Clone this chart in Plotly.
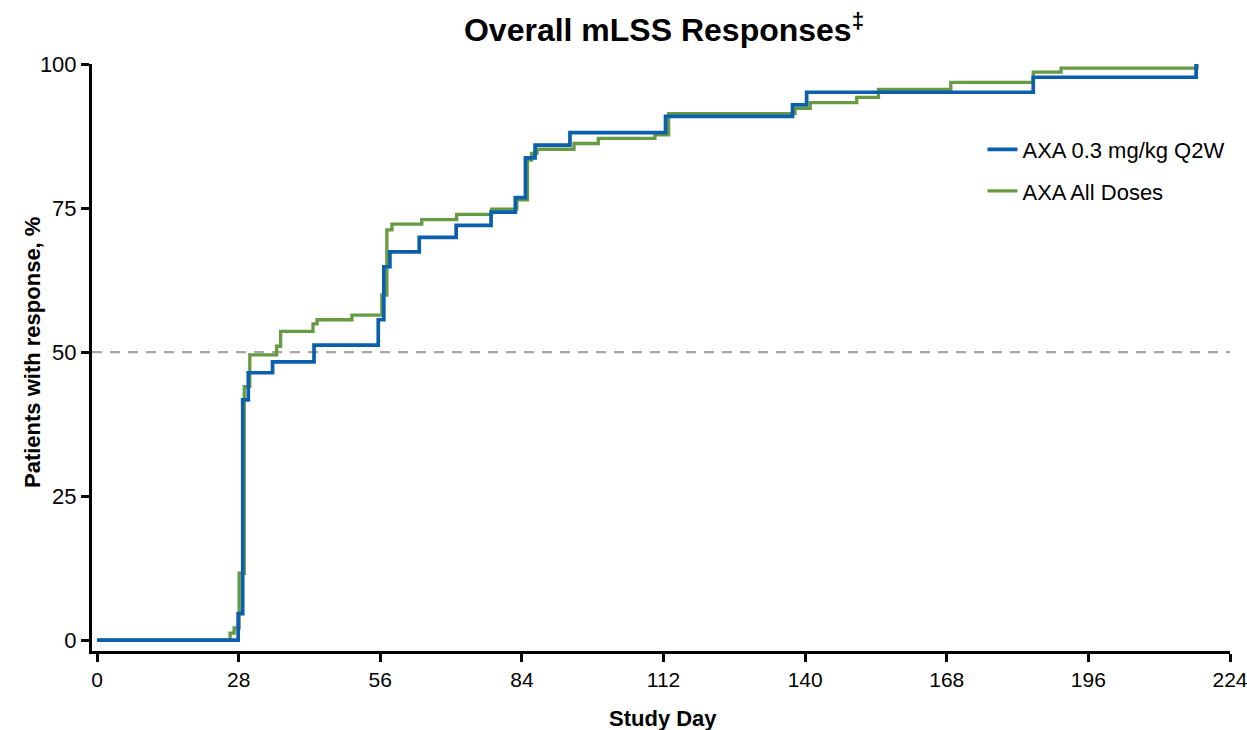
import plotly.graph_objects as go

# Cumulative response (%) by study day, step changes at each event
blue_days = [0, 27.9, 28.8, 29.9, 34.7, 42.9, 55.6, 56.7, 57.9, 63.7, 71.0, 77.9,
             82.7, 84.7, 86.6, 93.5, 112.4, 137.5, 140.3, 185.1, 217.3]
blue_vals = [0, 4.6, 41.7, 46.4, 48.3, 51.2, 55.6, 64.8, 67.4, 69.9, 72.0, 74.3,
             76.8, 83.7, 85.9, 88.1, 90.9, 92.9, 95.1, 97.7, 100.0]

green_days = [0, 26.3, 27.1, 28.1, 29.1, 30.2, 35.5, 36.3, 42.7, 43.5, 50.4, 56.3,
              57.3, 58.3, 64.2, 71.1, 78.0, 83.0, 85.1, 85.9, 87.0, 94.3, 99.1,
              110.3, 113.0, 138.0, 141.0, 150.2, 154.5, 168.8, 185.1, 190.6, 217.5]
green_vals = [0, 1.2, 2.1, 11.6, 44.0, 49.5, 51.0, 53.6, 54.9, 55.6, 56.4, 59.9,
              71.2, 72.2, 73.0, 73.9, 74.8, 76.4, 83.3, 84.5, 85.2, 86.2, 87.1,
              87.7, 91.4, 92.3, 93.3, 94.2, 95.6, 96.8, 98.6, 99.3, 100.0]

series_names = ["AXA 0.3 mg/kg Q2W", "AXA All Doses"]
x_ticks = [0, 28, 56, 84, 112, 140, 168, 196, 224]
y_ticks = [0, 25, 50, 75, 100]
median_line = 50

BLUE = "#0C5FAD"
GREEN = "#669A43"
FONT = "Liberation Sans, Arial, sans-serif"

W, H = 1247, 730
M_L, M_R, M_T, M_B = 92, 17, 64, 79
plot_w = W - M_L - M_R
plot_h = H - M_T - M_B

fig = go.Figure()

# Green first so the blue curve sits on top
fig.add_trace(go.Scatter(
    x=green_days, y=green_vals, mode="lines", line_shape="hv",
    line=dict(color=GREEN, width=3.3), name=series_names[1],
    legendgroup="g", legendrank=2, cliponaxis=False,
))
fig.add_trace(go.Scatter(
    x=blue_days, y=blue_vals, mode="lines", line_shape="hv",
    line=dict(color=BLUE, width=3.7), name=series_names[0],
    legendgroup="b", legendrank=1, cliponaxis=False,
))

fig.add_shape(type="line", xref="paper", x0=0, x1=1, yref="y",
              y0=median_line, y1=median_line,
              line=dict(color="#A6A6A6", width=2.2, dash="10px,8px"), layer="below")

# Axis titles placed as annotations for exact positioning
fig.add_annotation(text="<b>Study Day</b>", xref="paper", yref="paper",
                   x=(663 - M_L) / plot_w, y=-(718 - (H - M_B)) / plot_h,
                   xanchor="center", yanchor="middle", showarrow=False,
                   font=dict(size=22, family=FONT, color="black"))
fig.add_annotation(text="<b>Patients with response, %</b>", xref="paper", yref="paper",
                   x=(32 - M_L) / plot_w, y=((H - M_B) - 353) / plot_h,
                   xanchor="center", yanchor="middle", textangle=-90, showarrow=False,
                   font=dict(size=22, family=FONT, color="black"))

fig.update_layout(
    width=W, height=H,
    margin=dict(l=M_L, r=M_R, t=M_T, b=M_B),
    paper_bgcolor="white", plot_bgcolor="white",
    font=dict(family=FONT, color="black", size=22),
    title=dict(text="<b>Overall mLSS Responses<sup>‡</sup></b>",
               font=dict(size=32, family=FONT), x=0.5325, xanchor="center",
               yref="container", y=1 - 30 / 730, yanchor="middle"),
    legend=dict(x=0.7825, y=0.89, xanchor="left", yanchor="top",
                font=dict(size=22, family=FONT), tracegroupgap=10,
                bgcolor="rgba(0,0,0,0)"),
    showlegend=True,
)

fig.update_xaxes(
    range=[-1, 224], tickvals=x_ticks, ticktext=[str(t) for t in x_ticks],
    showline=True, linecolor="black", linewidth=3,
    ticks="outside", ticklen=8, tickwidth=3, tickcolor="black",
    showgrid=False, zeroline=False, tickfont=dict(size=21), automargin=False,
    ticklabeloverflow="allow",
)
fig.update_yaxes(
    range=[-1.9, 100], tickvals=y_ticks, ticktext=[str(t) for t in y_ticks],
    showline=True, linecolor="black", linewidth=3,
    ticks="outside", ticklen=8, tickwidth=3, tickcolor="black",
    showgrid=False, zeroline=False, tickfont=dict(size=22), automargin=False,
)

fig.write_html("out.html")
